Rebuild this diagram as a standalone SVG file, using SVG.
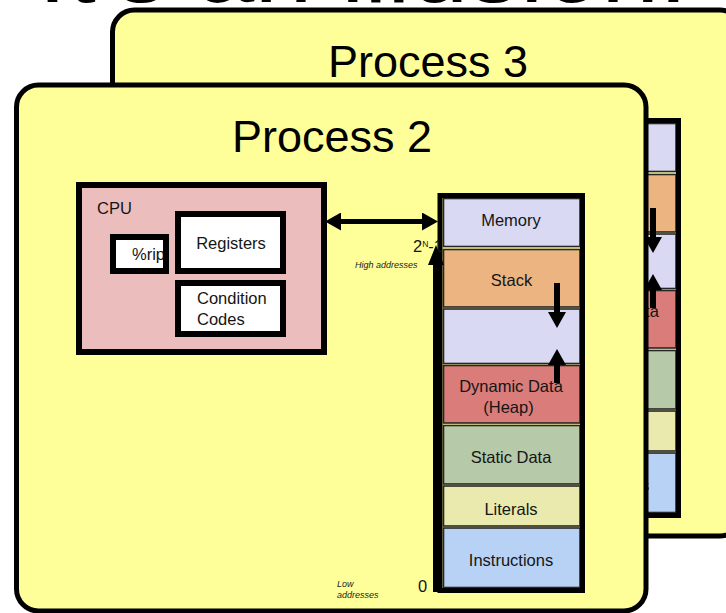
<svg xmlns="http://www.w3.org/2000/svg" xmlns:xlink="http://www.w3.org/1999/xlink" width="726" height="613" viewBox="0 0 726 613">
  <defs>
    <style>
      .proc { fill: #FFFF99; stroke: #000; stroke-width: 5; }
      .ptitle { font-family: "Liberation Sans", Arial, sans-serif; font-size: 45px; fill: #000; text-anchor: middle; }
      .box { stroke: #000; stroke-width: 6; }
      .lbl { font-family: "Liberation Sans", Arial, sans-serif; font-size: 16.5px; fill: #151515; }
      .mid { text-anchor: middle; }
      .cell { stroke: #262626; stroke-width: 1.6; }
      .note { font-family: "Liberation Sans", Arial, sans-serif; font-style: italic; font-size: 9px; fill: #222; }
      .wire { stroke: #000; fill: none; }
    </style>
    <!-- arrowheads: base sits on the line end, tip points forward -->
    <marker id="head" viewBox="0 0 16 18" refX="0" refY="9" markerWidth="16" markerHeight="18" markerUnits="userSpaceOnUse" orient="auto-start-reverse">
      <path d="M0,0 L16,9 L0,18 Z" fill="#000"/>
    </marker>
    <marker id="head-tall" viewBox="0 0 20 16" refX="0" refY="8" markerWidth="20" markerHeight="16" markerUnits="userSpaceOnUse" orient="auto">
      <path d="M0,0 L20,8 L0,16 Z" fill="#000"/>
    </marker>
  </defs>

  <!-- slide heading, mostly above the frame -->
  <text x="688" y="2" font-family="Liberation Sans, Arial, sans-serif" font-size="104" text-anchor="end" fill="#000">It's an illusion!</text>

  <!-- back process: same layout as Process 2, shifted up and right -->
  <g id="process-3">
    <rect class="proc" x="112.5" y="10" width="629.5" height="526" rx="22"/>
    <text class="ptitle" x="428" y="77">Process 3</text>
    <use xlink:href="#body" href="#body" transform="translate(96,-75)"/>
  </g>

  <!-- front process -->
  <g id="process-2">
    <rect class="proc" x="16.5" y="85" width="629.5" height="526" rx="22"/>
    <text class="ptitle" x="332" y="152">Process 2</text>

    <g id="body">
      <g id="cpu">
        <rect class="box" x="79" y="185" width="245" height="167" fill="#ECBDBD"/>
        <text class="lbl" x="97" y="214" font-size="17">CPU</text>
      </g>

      <g id="rip">
        <rect x="113" y="237" width="53" height="34" fill="#fff"/>
        <text class="lbl" x="132" y="260" font-size="15">%rip</text>
        <rect class="box" x="113" y="237" width="53" height="34" fill="none"/>
      </g>

      <g id="registers">
        <rect class="box" x="178" y="214" width="105" height="57" fill="#fff"/>
        <text class="lbl mid" x="231" y="249" font-size="16">Registers</text>
      </g>

      <g id="condition-codes">
        <rect class="box" x="178" y="283" width="105" height="51" fill="#fff"/>
        <text class="lbl" x="197" y="304" font-size="17">Condition</text>
        <text class="lbl" x="197" y="325" font-size="17">Codes</text>
      </g>

      <g id="memory">
        <rect class="cell" x="443.5" y="198.5" width="136.5" height="48" fill="#D9D9F3"/>
        <rect class="cell" x="443.5" y="249.5" width="136.5" height="57.5" fill="#EBB481"/>
        <rect class="cell" x="443.5" y="309" width="136.5" height="54.5" fill="#D9D9F3"/>
        <rect class="cell" x="443.5" y="365.5" width="136.5" height="57.5" fill="#D97C7A"/>
        <rect class="cell" x="443.5" y="425.5" width="136.5" height="58.5" fill="#B6C9A8"/>
        <rect class="cell" x="443.5" y="486" width="136.5" height="40" fill="#EAE9AE"/>
        <rect class="cell" x="443.5" y="528" width="136.5" height="59.5" fill="#B8D2F6"/>
        <rect x="440" y="195.5" width="142.5" height="395" fill="none" stroke="#000" stroke-width="5"/>
        <text class="lbl mid" x="511" y="226" font-size="19">Memory</text>
        <text class="lbl mid" x="511.5" y="286" font-size="15.5">Stack</text>
        <text class="lbl mid" x="511" y="392">Dynamic Data</text>
        <text class="lbl mid" x="508.5" y="413">(Heap)</text>
        <text class="lbl mid" x="511" y="463">Static Data</text>
        <text class="lbl mid" x="511" y="515">Literals</text>
        <text class="lbl mid" x="511" y="566">Instructions</text>
      </g>

      <g id="address-labels">
        <text class="lbl" x="413" y="252" font-size="12">2<tspan dy="-5" font-size="8.5">N</tspan><tspan dy="5">-1</tspan></text>
        <text class="note" x="355" y="268">High addresses</text>
        <text class="note" x="337" y="587">Low</text>
        <text class="note" x="337" y="598">addresses</text>
        <text class="lbl" x="418" y="592" font-size="15">0</text>
      </g>

      <g id="connectors">
        <line class="wire" x1="341" y1="221.5" x2="422" y2="221.5" stroke-width="5" marker-start="url(#head)" marker-end="url(#head)"/>
        <line class="wire" x1="557" y1="283" x2="557" y2="312" stroke-width="6" marker-end="url(#head)"/>
        <line class="wire" x1="557" y1="383" x2="557" y2="365" stroke-width="6" marker-end="url(#head)"/>
        <line class="wire" x1="436" y1="592" x2="436" y2="265" stroke-width="6" marker-end="url(#head-tall)"/>
      </g>
    </g>
  </g>
</svg>
